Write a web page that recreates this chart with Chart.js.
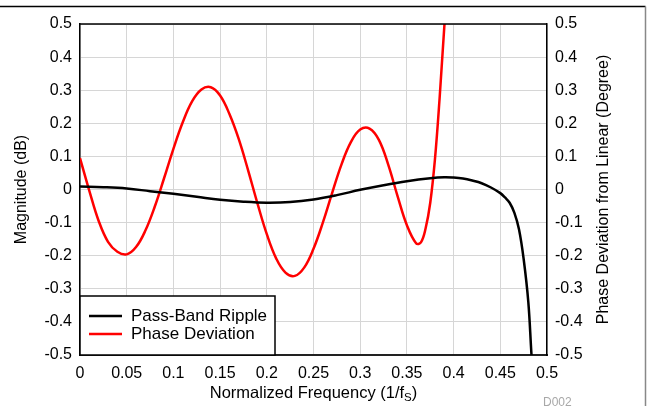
<!DOCTYPE html>
<html>
<head>
<meta charset="utf-8">
<script src="https://cdn.jsdelivr.net/npm/chart.js@4.4.0/dist/chart.umd.min.js"></script>
<style>
  html, body { margin: 0; padding: 0; background: #fff; }
  canvas { display: block; }
</style>
</head>
<body>
<canvas id="chart" width="647" height="406"></canvas>
<script>
var FONT = "'Liberation Sans', Arial, Helvetica, sans-serif"

// Pass-band ripple (dB)
var rippleFreq = [0, 0.025, 0.05, 0.075, 0.1, 0.125, 0.15, 0.175, 0.2, 0.225, 0.25, 0.275, 0.3, 0.325,
  0.35, 0.375, 0.39, 0.4, 0.41, 0.42, 0.43, 0.44, 0.45, 0.455, 0.46, 0.465, 0.47, 0.475, 0.48, 0.4833, 0.485]
var rippleValues = [0.009, 0.007, 0.003, -0.005, -0.013, -0.022, -0.031, -0.037, -0.04, -0.038, -0.03, -0.017, -0.001, 0.013,
  0.025, 0.034, 0.037, 0.036, 0.033, 0.027, 0.019, 0.006, -0.011, -0.024, -0.04, -0.07, -0.12, -0.21, -0.34, -0.495, -0.56]

// Phase deviation from linear (degree)
var phaseFreq = [0, 0.01, 0.02, 0.03, 0.04, 0.05, 0.06, 0.07, 0.08, 0.09, 0.1, 0.11, 0.12, 0.13, 0.14,
  0.15, 0.16, 0.17, 0.18, 0.19, 0.2, 0.21, 0.22, 0.23, 0.24, 0.25, 0.26, 0.27, 0.28, 0.29, 0.3,
  0.31, 0.32, 0.33, 0.34, 0.35, 0.36, 0.365, 0.37, 0.375, 0.38, 0.385, 0.39, 0.395]
var phaseValues = [0.095, -0.004, -0.095, -0.158, -0.188, -0.196, -0.174, -0.124, -0.052, 0.034, 0.123, 0.203, 0.266, 0.302, 0.309,
  0.284, 0.228, 0.152, 0.058, -0.042, -0.135, -0.208, -0.251, -0.261, -0.236, -0.179, -0.1, -0.01, 0.076, 0.143, 0.181,
  0.184, 0.15, 0.075, -0.02, -0.108, -0.163, -0.16, -0.118, -0.04, 0.09, 0.275, 0.49, 0.68]

var xTickLabels = ['0', '0.05', '0.1', '0.15', '0.2', '0.25', '0.3', '0.35', '0.4', '0.45', '0.5']
var yTickLabels = ['-0.5', '-0.4', '-0.3', '-0.2', '-0.1', '0', '0.1', '0.2', '0.3', '0.4', '0.5']

function toPoints(xs, ys) {
  return xs.map(function (x, i) { return { x: x, y: ys[i] } })
}

// titles, legend box and the page frame
var decorPlugin = {
  id: 'decor',
  afterDraw: function (chart) {
    var ctx = chart.ctx
    var a = chart.chartArea
    ctx.save()

    // page frame
    ctx.lineWidth = 1.5
    ctx.strokeStyle = '#000'
    ctx.beginPath(); ctx.moveTo(0, 6.5); ctx.lineTo(645.5, 6.5); ctx.stroke()
    ctx.strokeStyle = '#888'
    ctx.beginPath(); ctx.moveTo(645.5, 6.5); ctx.lineTo(645.5, 406); ctx.stroke()

    // plot top edge
    ctx.strokeStyle = '#000'
    ctx.beginPath(); ctx.moveTo(a.left, a.top); ctx.lineTo(a.right, a.top); ctx.stroke()

    // axis titles
    ctx.fillStyle = '#000'
    ctx.font = '16px ' + FONT
    ctx.textBaseline = 'middle'
    ctx.textAlign = 'center'
    var midY = (a.top + a.bottom) / 2
    ctx.save(); ctx.translate(22, midY); ctx.rotate(-Math.PI / 2)
    ctx.fillText('Magnitude (dB)', 0, 0); ctx.restore()
    ctx.save(); ctx.translate(604, midY); ctx.rotate(-Math.PI / 2)
    ctx.fillText('Phase Deviation from Linear (Degree)', 0, 0); ctx.restore()

    // x title with subscript S
    var main = 'Normalized Frequency (1/f'
    ctx.textBaseline = 'alphabetic'
    ctx.textAlign = 'left'
    ctx.font = '16.5px ' + FONT
    var w1 = ctx.measureText(main).width
    var w3 = ctx.measureText(')').width
    ctx.font = '11.5px ' + FONT
    var w2 = ctx.measureText('S').width
    var x0 = (a.left + a.right) / 2 - (w1 + w2 + w3) / 2
    ctx.font = '16.5px ' + FONT
    ctx.fillText(main, x0, 398)
    ctx.font = '11.5px ' + FONT
    ctx.fillText('S', x0 + w1, 401)
    ctx.font = '16.5px ' + FONT
    ctx.fillText(')', x0 + w1 + w2, 398)

    // legend
    var boxTop = 296, boxRight = 275
    ctx.fillStyle = '#fff'
    ctx.fillRect(a.left, boxTop, boxRight - a.left, a.bottom - boxTop)
    ctx.strokeStyle = '#000'
    ctx.lineWidth = 1.5
    ctx.strokeRect(a.left, boxTop, boxRight - a.left, a.bottom - boxTop)
    ctx.font = '17px ' + FONT
    ctx.textBaseline = 'middle'
    chart.data.datasets.forEach(function (ds, i) {
      var y = 316 + i * 18
      ctx.strokeStyle = ds.borderColor
      ctx.lineWidth = 2.5
      ctx.beginPath(); ctx.moveTo(89, y); ctx.lineTo(122, y); ctx.stroke()
      ctx.fillStyle = '#000'
      ctx.fillText(ds.label, 131, y)
    })

    // figure id
    ctx.fillStyle = '#a8a8a8'
    ctx.font = '12px ' + FONT
    ctx.textBaseline = 'top'
    ctx.fillText('D002', 543, 397)

    ctx.restore()
  }
}

var tickFont = { family: FONT, size: 16 }

new Chart(document.getElementById('chart'), {
  type: 'line',
  data: {
    datasets: [{
      label: 'Pass-Band Ripple',
      data: toPoints(rippleFreq, rippleValues),
      borderColor: '#000000',
      borderWidth: 2.5,
      pointRadius: 0,
      tension: 0.4,
      yAxisID: 'y'
    }, {
      label: 'Phase Deviation',
      data: toPoints(phaseFreq, phaseValues),
      borderColor: '#ff0000',
      borderWidth: 2.5,
      pointRadius: 0,
      tension: 0.4,
      yAxisID: 'y1'
    }]
  },
  options: {
    responsive: false,
    animation: false,
    layout: { padding: { top: 24, left: 0, right: 0, bottom: 0 } },
    plugins: {
      legend: { display: false },
      tooltip: { enabled: false }
    },
    scales: {
      x: {
        type: 'linear',
        min: 0,
        max: 0.5,
        ticks: {
          stepSize: 0.05,
          padding: 9,
          color: '#000',
          font: tickFont,
          maxRotation: 0,
          autoSkip: false,
          callback: function (v, i) { return xTickLabels[i] }
        },
        grid: { color: '#d6d6d6', lineWidth: 1, drawTicks: false },
        border: { color: '#222', width: 2 },
        afterFit: function (s) { s.height = 51 }
      },
      y: {
        position: 'left',
        min: -0.5,
        max: 0.5,
        ticks: {
          stepSize: 0.1,
          padding: 8,
          color: '#000',
          font: tickFont,
          autoSkip: false,
          callback: function (v, i) { return yTickLabels[i] }
        },
        grid: { color: '#d6d6d6', lineWidth: 1, drawTicks: false },
        border: { color: '#000', width: 1.5 },
        afterFit: function (s) { s.width = 80 }
      },
      y1: {
        position: 'right',
        min: -0.5,
        max: 0.5,
        ticks: {
          stepSize: 0.1,
          padding: 8,
          color: '#000',
          font: tickFont,
          autoSkip: false,
          callback: function (v, i) { return yTickLabels[i] }
        },
        grid: { display: false, drawTicks: false },
        border: { color: '#000', width: 1.5 },
        afterFit: function (s) { s.width = 100 }
      }
    }
  },
  plugins: [decorPlugin]
})
</script>
</body>
</html>
